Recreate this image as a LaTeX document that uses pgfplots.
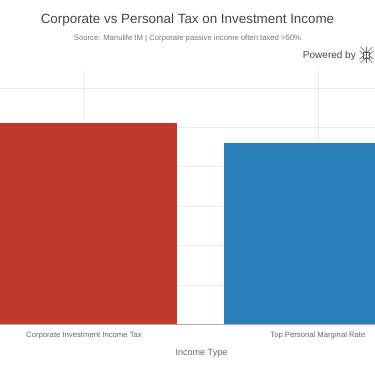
\documentclass[border=0pt]{standalone}
\usepackage{fontspec}
\setmainfont{Liberation Sans}
\usepackage{pgfplots}
\pgfplotsset{compat=1.18}
\definecolor{redbar}{HTML}{C0392B}
\definecolor{bluebar}{HTML}{2980B9}
\definecolor{gridc}{HTML}{EAEAEA}
\definecolor{titlec}{HTML}{444444}
\definecolor{subc}{HTML}{777777}
\definecolor{tickc}{HTML}{666666}
\definecolor{axc}{HTML}{AAAAAA}
\begin{document}
\begin{tikzpicture}
\path[use as bounding box] (0pt,0pt) rectangle (375pt,-366pt);
\node[font=\fontsize{13.4}{16}\selectfont, text=titlec] at (187.5pt,-20pt) {Corporate vs Personal Tax on Investment Income};
\node[font=\fontsize{7.7}{9}\selectfont, text=subc] at (187.5pt,-39pt) {Source: Manulife IM | Corporate passive income often taxed >50\%};
\node[anchor=east, font=\fontsize{10}{12}\selectfont, text=titlec, inner sep=0pt] at (356pt,-56pt) {Powered by};
\begin{scope}[shift={(366.5pt,-55pt)}, x=1pt, y=1pt, draw=tickc, line width=0.6pt]
\draw (-6,8) -- (0,2) -- (6,8);
\draw (-6,-8) -- (0,-2) -- (6,-8);
\draw (-7,4) -- (-2,0) -- (-7,-4);
\draw (7,4) -- (2,0) -- (7,-4);
\draw (0,8) -- (0,-8);
\draw (-3,3) rectangle (3,-3);
\end{scope}
\begin{axis}[
  at={(0pt,-324.3pt)}, anchor=south west,
  scale only axis, width=375pt, height=255.3pt,
  xmin=-0.359, xmax=1.244, ymin=0, ymax=64.8,
  axis line style={draw=none},
  major tick length=0pt,
  xtick={0,1},
  xticklabels={Corporate Investment Income Tax, Top Personal Marginal Rate},
  ytick={10,20,30,40,50,60},
  yticklabels={},
  xmajorgrids, ymajorgrids,
  grid style={draw=gridc, line width=0.8pt},
  ticklabel style={font=\fontsize{7.7}{9}\selectfont, text=tickc},
  xticklabel style={yshift=-4pt},
  xlabel={Income Type},
  xlabel style={font=\fontsize{9}{11}\selectfont, text=tickc, yshift=-3pt, xshift=14pt},
  clip=false,
]
\draw[axc, line width=0.8pt] (axis cs:-0.359,0) -- (axis cs:1.244,0);
\addplot[ybar, bar width=187pt, bar shift=0pt, fill=redbar, draw=none] coordinates {(0,51.0)};
\addplot[ybar, bar width=187pt, bar shift=0pt, fill=bluebar, draw=none] coordinates {(1,46.1)};
\end{axis}
\end{tikzpicture}
\end{document}
